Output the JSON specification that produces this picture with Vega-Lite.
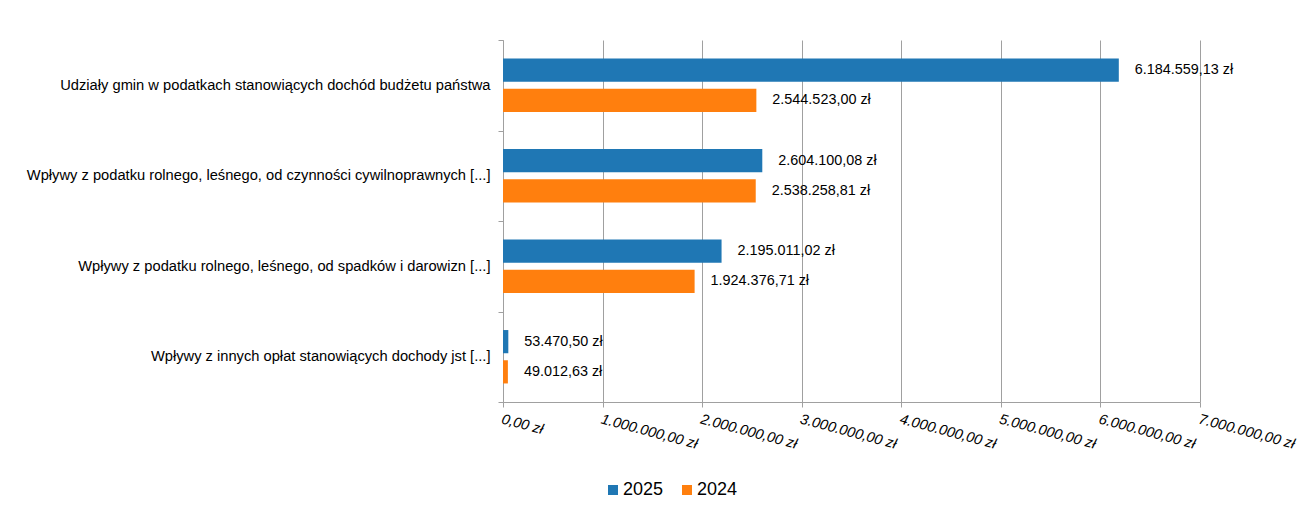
{
  "$schema": "https://vega.github.io/schema/vega-lite/v6.json",
  "autosize": "none",
  "padding": {"left": 503, "top": 40, "right": 112, "bottom": 113},
  "width": 697,
  "height": 362,
  "background": "white",
  "data": {
    "values": [
      {"kategoria": "Udziały gmin w podatkach stanowiących dochód budżetu państwa", "rok": "2025", "kwota": 6184559.13},
      {"kategoria": "Udziały gmin w podatkach stanowiących dochód budżetu państwa", "rok": "2024", "kwota": 2544523.00},
      {"kategoria": "Wpływy z podatku rolnego, leśnego, od czynności cywilnoprawnych [...]", "rok": "2025", "kwota": 2604100.08},
      {"kategoria": "Wpływy z podatku rolnego, leśnego, od czynności cywilnoprawnych [...]", "rok": "2024", "kwota": 2538258.81},
      {"kategoria": "Wpływy z podatku rolnego, leśnego, od spadków i darowizn [...]", "rok": "2025", "kwota": 2195011.02},
      {"kategoria": "Wpływy z podatku rolnego, leśnego, od spadków i darowizn [...]", "rok": "2024", "kwota": 1924376.71},
      {"kategoria": "Wpływy z innych opłat stanowiących dochody jst [...]", "rok": "2025", "kwota": 53470.50},
      {"kategoria": "Wpływy z innych opłat stanowiących dochody jst [...]", "rok": "2024", "kwota": 49012.63}
    ]
  },
  "encoding": {
    "y": {
      "field": "kategoria",
      "type": "nominal",
      "sort": null,
      "title": null,
      "scale": {"paddingInner": 0, "paddingOuter": 0},
      "axis": {
        "tickBand": "extent",
        "tickSize": 5,
        "labelPadding": 8,
        "labelFontSize": 14.7,
        "labelLimit": 600
      }
    },
    "yOffset": {
      "field": "rok",
      "type": "nominal",
      "sort": ["2025", "2024"],
      "scale": {"paddingInner": 0.232, "paddingOuter": 0.614}
    },
    "x": {
      "field": "kwota",
      "type": "quantitative",
      "title": null,
      "scale": {"domain": [0, 7000000], "nice": false},
      "axis": {
        "values": [0, 1000000, 2000000, 3000000, 4000000, 5000000, 6000000, 7000000],
        "format": "$,.2f",
        "labelAngle": 15,
        "labelAlign": "left",
        "labelBaseline": "top",
        "labelFontStyle": "italic",
        "labelFontSize": 14.5,
        "labelPadding": 5,
        "tickSize": 5,
        "grid": true
      }
    }
  },
  "layer": [
    {
      "mark": {"type": "bar"},
      "encoding": {
        "color": {
          "field": "rok",
          "type": "nominal",
          "title": null,
          "scale": {"domain": ["2025", "2024"], "range": ["#1f77b4", "#ff7f0e"]},
          "legend": {
            "orient": "none",
            "direction": "horizontal",
            "legendX": 101,
            "legendY": 441,
            "symbolType": "square",
            "symbolSize": 100,
            "symbolStrokeWidth": 0,
            "labelFontSize": 18,
            "labelOffset": 1,
            "columnPadding": 14
          }
        }
      }
    },
    {
      "mark": {"type": "text", "align": "left", "baseline": "middle", "dx": 16, "fontSize": 14.4, "color": "#000"},
      "encoding": {
        "text": {"field": "kwota", "type": "quantitative", "format": "$,.2f"}
      }
    }
  ],
  "config": {
    "locale": {
      "number": {"decimal": ",", "thousands": ".", "grouping": [3], "currency": ["", " zł"]}
    },
    "font": "Liberation Sans",
    "view": {"stroke": null},
    "axis": {
      "domainColor": "#a0a0a0",
      "tickColor": "#a0a0a0",
      "gridColor": "#a0a0a0",
      "gridOpacity": 1,
      "labelColor": "#000",
      "labelFont": "Liberation Sans"
    },
    "legend": {"labelColor": "#000", "labelFont": "Liberation Sans"}
  }
}
